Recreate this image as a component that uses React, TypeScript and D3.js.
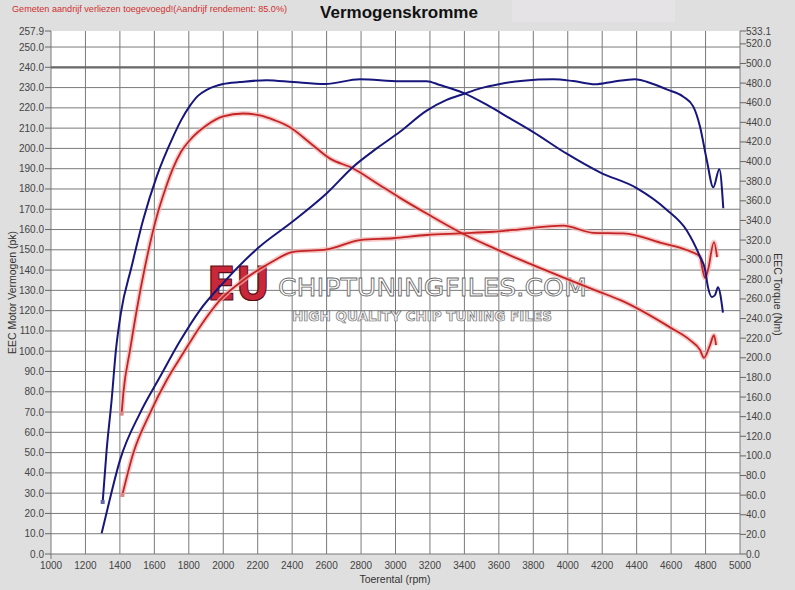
import React from "react";
import * as d3 from "d3";

// ---- data ----
const RPM_TQ_TUNED = [1300,1323,1352,1377,1406,1468,1534,1614,1708,1755,1807,1853,1904,1999,2097,2252,2407,2591,2794,3026,3181,3258,3394,3529,3665,3800,3994,4187,4400,4574,4690,4768,4797,4814,4837,4855,4872,4901];
const TQ_TUNED = [53,106,157,208,246,293,340,385,425,442,457,467,473,479,481,483,481,479,484,482,482,478,470,458,444,430,408,389,373,351,330,303,290,272,262,264,272,246];

const RPM_PW_TUNED = [1294,1331,1401,1517,1633,1749,1865,1999,2202,2399,2601,2755,2891,3026,3181,3297,3394,3491,3607,3742,3916,4032,4158,4264,4390,4458,4574,4671,4729,4768,4807,4845,4880,4903];
const PW_TUNED = [10.2,23.3,46.4,69.5,87.4,105,120.3,133.6,150.9,163.7,177.9,191,200,208.2,218.6,223.9,226.8,229.6,231.8,233.4,234.1,233.2,231.6,232.9,234.1,232.9,229.1,225.5,220.6,210.7,194.3,180.8,189.7,170.5];

const RPM_TQ_STOCK = [1410,1420,1459,1498,1546,1614,1662,1708,1755,1807,1904,1999,2115,2213,2300,2387,2504,2620,2755,2891,3026,3181,3374,3568,3723,4001,4187,4303,4594,4710,4768,4791,4826,4849,4861];
const TQ_STOCK = [143,164,208,249,293,344,371,393,410,422,437,446,449,447,442,435,419,403,393,378,363,347,328,312,300,280,267,259,231,218,208,200,213,223,213];

const RPM_PW_STOCK = [1414,1478,1575,1672,1768,1865,1981,2126,2271,2407,2601,2794,2987,3181,3374,3568,3684,3974,4148,4322,4554,4690,4768,4780,4797,4814,4849,4867];
const PW_STOCK = [29.1,49.8,69.5,85.8,99.1,112.1,125.2,135.6,143.5,149,150.2,154.8,155.7,157.3,158.1,158.9,159.8,161.9,158.4,158.1,153.2,149.9,146.6,141.5,136.1,140,153.8,146.4];

const X_TICKS = d3.range(1000, 5001, 200);
const LEFT_TICKS = [...d3.range(0, 251, 10), 257.9];
const RIGHT_TICKS = [...d3.range(0, 521, 20), 533.1];
const LEFT_MAX = 257.9;
const RIGHT_MAX = 533.1;
const REF_LINE = 240;

const TITLE = "Vermogenskromme";
const NOTE = "Gemeten aandrijf verliezen toegevoegd!(Aandrijf rendement: 85.0%)";
const X_LABEL = "Toerental (rpm)";
const Y_LABEL = "EEC Motor Vermogen (pk)";
const Y2_LABEL = "EEC Torque (Nm)";

const W = 795, H = 590;
const PL = 51, PR = 740, PT = 31, PB = 554;
const FONT = "Arial, 'Liberation Sans', sans-serif";
const BLUE = "#16167c";
const RED = "#c42424";

export default function App() {
  const x = d3.scaleLinear().domain([1000, 5000]).range([PL, PR]);
  const yL = d3.scaleLinear().domain([0, LEFT_MAX]).range([PB, PT]);
  const yR = d3.scaleLinear().domain([0, RIGHT_MAX]).range([PB, PT]);

  const mk = (rpms: number[], vals: number[], y: d3.ScaleLinear<number, number>) =>
    d3.line<number>().x((_, i) => x(rpms[i])).y((v) => y(v)).curve(d3.curveMonotoneX)(vals) || "";

  const tqT = mk(RPM_TQ_TUNED, TQ_TUNED, yR);
  const pwT = mk(RPM_PW_TUNED, PW_TUNED, yL);
  const tqS = mk(RPM_TQ_STOCK, TQ_STOCK, yR);
  const pwS = mk(RPM_PW_STOCK, PW_STOCK, yL);

  return (
    <svg width={W} height={H} style={{ position: "fixed", left: 0, top: 0 }} fontFamily={FONT}>
      <rect x={0} y={0} width={W} height={H} fill="#dfdfdf" />
      <rect x={512} y={0} width={163} height={22} fill="#e5e3e5" />
      <rect x={PL} y={PT} width={PR - PL} height={PB - PT} fill="#ffffff" />

      {/* grid */}
      {X_TICKS.map((t) => (
        <line key={"vx" + t} x1={x(t)} x2={x(t)} y1={PT} y2={PB + (t === 1000 ? 5 : 0)} stroke="#7a7a7a" strokeWidth={1} />
      ))}
      {LEFT_TICKS.filter((t) => t <= 250).map((t) => (
        <line key={"hy" + t} x1={PL} x2={PR} y1={yL(t)} y2={yL(t)} stroke="#7a7a7a" strokeWidth={1} />
      ))}
      <line x1={PL} x2={PR} y1={yL(REF_LINE)} y2={yL(REF_LINE)} stroke="#6a6a6a" strokeWidth={2.2} />

      {/* left axis */}
      {LEFT_TICKS.map((t) => (
        <g key={"lt" + t}>
          <line x1={PL - 6} x2={PL} y1={yL(t)} y2={yL(t)} stroke="#666" />
          <text x={PL - 7} y={yL(t)} dy="0.35em" textAnchor="end" fontSize={10} fill="#444">{t.toFixed(1)}</text>
        </g>
      ))}
      {/* right axis */}
      {RIGHT_TICKS.map((t) => (
        <g key={"rt" + t}>
          <line x1={PR} x2={PR + 6} y1={yR(t)} y2={yR(t)} stroke="#666" />
          <text x={PR + 6} y={yR(t)} dy="0.35em" textAnchor="start" fontSize={10} fill="#444">{t.toFixed(1)}</text>
        </g>
      ))}
      {/* bottom axis */}
      {X_TICKS.map((t) => (
        <text key={"xt" + t} x={x(t)} y={569} textAnchor="middle" fontSize={10} fill="#444">{t}</text>
      ))}

      {/* watermark */}
      <g>
        <text x={207} y={300} fontSize={46} fontWeight="bold" fill="#c8283a" stroke="#5a0f18" strokeWidth={1.2}
          textLength={63} lengthAdjust="spacingAndGlyphs" fontFamily="'DejaVu Sans', sans-serif">EU</text>
        <text x={278} y={296} fontSize={24} fill="#ffffff" stroke="#6a6a6a" strokeWidth={0.8}
          textLength={309} lengthAdjust="spacingAndGlyphs" fontFamily="'DejaVu Sans', sans-serif">CHIPTUNINGFILES.COM</text>
        <text x={292} y={321} fontSize={14} fontWeight="bold" fill="#f2f2f2" stroke="#6a6a6a" strokeWidth={0.7}
          textLength={260} lengthAdjust="spacingAndGlyphs" fontFamily="'DejaVu Sans', sans-serif">HIGH QUALITY CHIP TUNING FILES</text>
      </g>

      {/* curves */}
      <path d={tqS} fill="none" stroke="#f3b4b4" strokeWidth={5} opacity={0.7} />
      <path d={pwS} fill="none" stroke="#f3b4b4" strokeWidth={5} opacity={0.7} />
      <path d={tqS} fill="none" stroke={RED} strokeWidth={1.8} />
      <path d={pwS} fill="none" stroke={RED} strokeWidth={1.8} />
      <path d={tqT} fill="none" stroke={BLUE} strokeWidth={2} />
      <path d={pwT} fill="none" stroke={BLUE} strokeWidth={2} />
      <rect x={x(RPM_TQ_TUNED[0]) - 2} y={yR(TQ_TUNED[0]) - 2} width={4} height={4} fill="#6666aa" />
      <rect x={x(RPM_TQ_STOCK[0]) - 2} y={yR(TQ_STOCK[0]) - 2} width={4} height={4} fill="#dd8888" />
      <rect x={x(RPM_PW_STOCK[0]) - 2} y={yL(PW_STOCK[0]) - 2} width={4} height={4} fill="#dd8888" />

      {/* titles */}
      <text x={12} y={12} fontSize={9.1} fill="#d03030">{NOTE}</text>
      <text x={399} y={18} textAnchor="middle" fontSize={17} fontWeight="bold" fill="#111">{TITLE}</text>
      <text x={395} y={583} textAnchor="middle" fontSize={10.5} fill="#333">{X_LABEL}</text>
      <text transform={`translate(16,${(PT + PB) / 2}) rotate(-90)`} textAnchor="middle" fontSize={10.5} fill="#333">{Y_LABEL}</text>
      <text transform={`translate(774,${(PT + PB) / 2 + 2}) rotate(90)`} textAnchor="middle" fontSize={10.5} fill="#333">{Y2_LABEL}</text>
    </svg>
  );
}
